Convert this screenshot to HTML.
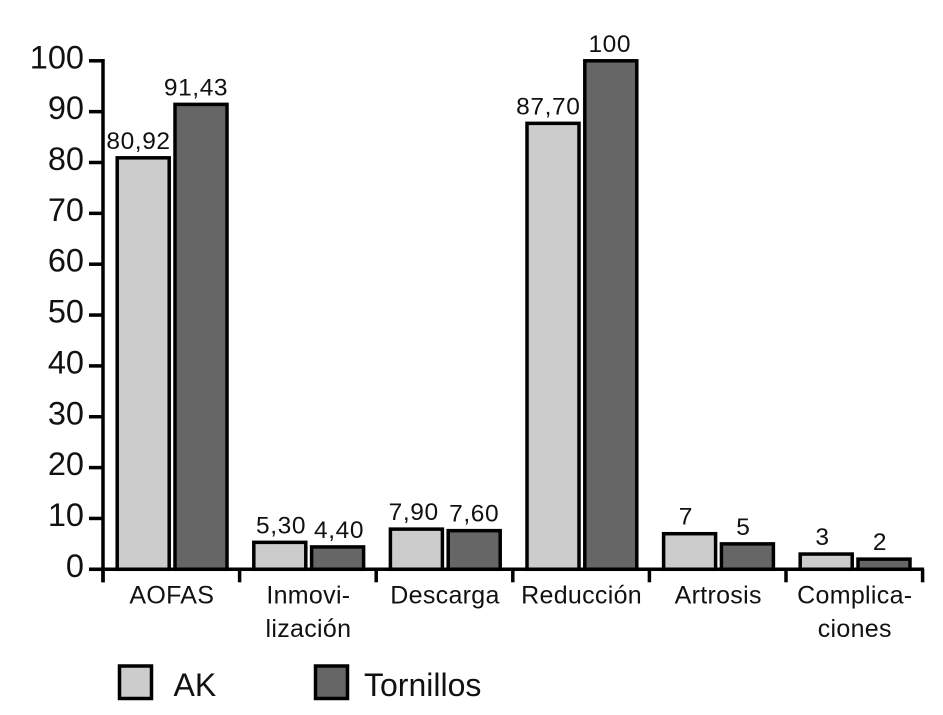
<!DOCTYPE html>
<html>
<head>
<meta charset="utf-8">
<style>
html,body{margin:0;padding:0;background:#fff;width:943px;height:715px;overflow:hidden}
svg{display:block}
text{font-family:"Liberation Sans",Arial,sans-serif;fill:#111}
</style>
</head>
<body>
<svg id="chart" width="943" height="715" viewBox="0 0 943 715" xmlns="http://www.w3.org/2000/svg"></svg>
<script>
const categories = [["AOFAS"], ["Inmovi-", "lización"], ["Descarga"], ["Reducción"], ["Artrosis"], ["Complica-", "ciones"]];
const akValues = [80.92, 5.30, 7.90, 87.70, 7, 3];
const tornillosValues = [91.43, 4.40, 7.60, 100, 5, 2];
const akLabels = ["80,92", "5,30", "7,90", "87,70", "7", "3"];
const tornillosLabels = ["91,43", "4,40", "7,60", "100", "5", "2"];
const yTicks = [0, 10, 20, 30, 40, 50, 60, 70, 80, 90, 100];
const seriesNames = ["AK", "Tornillos"];
// Hand-placement nudges of the printed labels, relative to their bars
const akLabelNudge = [0, 6, 2, 0, 1, 1];
const tornilloLabelNudge = [-4, 2.5, 1, 0, -3, -3];

const svg = document.getElementById('chart');
const NS = 'http://www.w3.org/2000/svg';
const axisX = 103, groupW = 136.6, y0 = 569.3, y100 = 60.8;
const yScale = v => y0 - (v / 100) * (y0 - y100);
const groupX = i => axisX + i * groupW;
const AK_FILL = '#cccccc', T_FILL = '#666666', INK = '#000';

function make(tag, attrs, txt) {
  const el = document.createElementNS(NS, tag);
  for (const k in attrs) el.setAttribute(k, attrs[k]);
  if (txt !== undefined) el.textContent = txt;
  svg.appendChild(el);
  return el;
}

// Bars and value labels
categories.forEach((c, i) => {
  const gx = groupX(i);
  const a = make('rect', {x: gx + 14.2, y: yScale(akValues[i]), width: 52, height: y0 - yScale(akValues[i]), fill: AK_FILL, stroke: INK, 'stroke-width': 3.5});
  
  
  const t = make('rect', {x: gx + 72, y: yScale(tornillosValues[i]), width: 52, height: y0 - yScale(tornillosValues[i]), fill: T_FILL, stroke: INK, 'stroke-width': 3.5});
  
  
  const al = make('text', {x: gx + 35.5 + akLabelNudge[i], y: yScale(akValues[i]) - 9, 'font-size': 24.5, 'text-anchor': 'middle', 'letter-spacing': '0.6'}, akLabels[i]);
  
  
  const tl = make('text', {x: gx + 97 + tornilloLabelNudge[i], y: yScale(tornillosValues[i]) - 9, 'font-size': 24.5, 'text-anchor': 'middle', 'letter-spacing': '0.6'}, tornillosLabels[i]);
  
  
  c.forEach((line, j) => {
    const cl = make('text', {x: gx + groupW / 2 + 0.5, y: 603.5 + j * 33.5, 'font-size': 25, 'text-anchor': 'middle', 'letter-spacing': '0.3'}, line);
    
    
  });
});

// Y axis
const yAxis = make('line', {x1: axisX, x2: axisX, y1: y100 - 1.75, y2: y0 + 13, stroke: INK, 'stroke-width': 3.5});


yTicks.forEach(v => {
  const tk = make('line', {x1: axisX - 14, x2: axisX, y1: yScale(v), y2: yScale(v), stroke: INK, 'stroke-width': 3.5});
  
  
  const lb = make('text', {x: 84, y: yScale(v) + 7.5, 'font-size': 32.5, 'text-anchor': 'end'}, String(v));
  
  
});

// X axis
const xAxis = make('line', {x1: axisX - 14, x2: groupX(categories.length) + 1.5, y1: y0, y2: y0, stroke: INK, 'stroke-width': 3.5});


for (let i = 0; i <= categories.length; i++) {
  const tk = make('line', {x1: groupX(i), x2: groupX(i), y1: y0, y2: y0 + 13, stroke: INK, 'stroke-width': 3.5});
  
  
}

// Legend
const s1 = make('rect', {x: 119.5, y: 666, width: 32, height: 32.5, fill: AK_FILL, stroke: INK, 'stroke-width': 3.5});


const l1 = make('text', {x: 173.5, y: 696, 'font-size': 32}, seriesNames[0]);


const s2 = make('rect', {x: 315.5, y: 666, width: 32, height: 32.5, fill: T_FILL, stroke: INK, 'stroke-width': 3.5});


const l2 = make('text', {x: 364, y: 696, 'font-size': 32}, seriesNames[1]);


</script>
</body>
</html>
